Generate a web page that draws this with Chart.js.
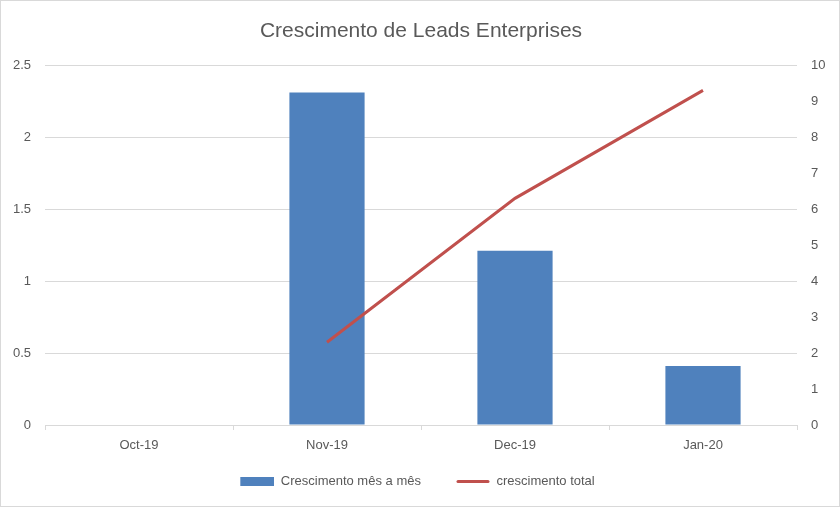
<!DOCTYPE html>
<html>
<head>
<meta charset="utf-8">
<script src="https://cdn.jsdelivr.net/npm/chart.js@4"></script>
<style>
  html, body { margin: 0; padding: 0; background: #fff; }
  #wrap { width: 840px; height: 507px; box-sizing: border-box; border: 1px solid #d9d9d9; }
  canvas { display: block; }
</style>
</head>
<body>
<div id="wrap"><canvas id="chart" width="838" height="505"></canvas></div>
<script>
// Chart data
const months = ['Oct-19', 'Nov-19', 'Dec-19', 'Jan-20'];
const monthlyGrowth = [0, 2.31, 1.21, 0.41];
const totalGrowth = [null, 2.3, 6.3, 9.3];

const BAR_BLUE = '#4F81BD';
const LINE_RED = '#C0504D';
const TEXT_GRAY = '#595959';
const GRID_GRAY = '#d9d9d9';
const FONT = 'Liberation Sans';

// Legend swatches: left part is blank so the items sit further apart
function makeSwatch(kind, color) {
  const c = document.createElement('canvas');
  c.width = 49;
  c.height = 9;
  const g = c.getContext('2d');
  g.fillStyle = color;
  g.strokeStyle = color;
  if (kind === 'rect') {
    g.fillRect(15, 0, 34, 9);
  } else {
    g.lineWidth = 3;
    g.lineCap = 'round';
    g.beginPath();
    g.moveTo(17, 4.5);
    g.lineTo(47, 4.5);
    g.stroke();
  }
  return c;
}
const barSwatch = makeSwatch('rect', BAR_BLUE);
const lineSwatch = makeSwatch('line', LINE_RED);

const ctx = document.getElementById('chart');

new Chart(ctx, {
  type: 'bar',
  data: {
    labels: months,
    datasets: [
      {
        type: 'line',
        label: 'crescimento total',
        data: totalGrowth,
        yAxisID: 'y1',
        borderColor: LINE_RED,
        backgroundColor: LINE_RED,
        borderWidth: 3,
        pointRadius: 0,
        tension: 0,
        order: 1
      },
      {
        label: 'Crescimento mês a mês',
        data: monthlyGrowth,
        yAxisID: 'y',
        backgroundColor: BAR_BLUE,
        borderWidth: 0,
        barPercentage: 0.4,
        categoryPercentage: 1,
        order: 2
      }
    ]
  },
  options: {
    responsive: false,
    animation: false,
    // negative left padding moves the centred legend a bit to the left
    layout: { padding: { top: 0, bottom: 8, left: -20, right: 0 } },
    plugins: {
      title: {
        display: true,
        fullSize: false,
        text: 'Crescimento de Leads Enterprises',
        color: TEXT_GRAY,
        font: { family: FONT, size: 21, weight: 'normal' },
        padding: { top: 18, bottom: 21 }
      },
      legend: {
        position: 'bottom',
        reverse: true,
        labels: {
          color: TEXT_GRAY,
          font: { family: FONT, size: 13 },
          usePointStyle: true,
          pointStyleWidth: 49,
          boxHeight: 9,
          padding: 20,
          generateLabels(chart) {
            const items = Chart.defaults.plugins.legend.labels.generateLabels(chart);
            items.forEach(item => {
              item.pointStyle = item.datasetIndex === 0 ? lineSwatch : barSwatch;
            });
            return items;
          }
        }
      },
      tooltip: { enabled: false }
    },
    scales: {
      x: {
        grid: {
          offset: true,
          drawOnChartArea: false,
          drawTicks: true,
          tickLength: 5,
          color: GRID_GRAY
        },
        border: { display: true, color: GRID_GRAY },
        ticks: {
          color: TEXT_GRAY,
          font: { family: FONT, size: 13 },
          padding: 8
        },
        afterFit(scale) { scale.height = 30; }
      },
      y: {
        position: 'left',
        min: 0,
        max: 2.5,
        ticks: {
          stepSize: 0.5,
          color: TEXT_GRAY,
          font: { family: FONT, size: 13 },
          padding: 14,
          callback: v => String(v)
        },
        grid: { color: GRID_GRAY, drawTicks: false },
        border: { display: false },
        afterFit(scale) { scale.width = 64; }
      },
      y1: {
        position: 'right',
        min: 0,
        max: 10,
        ticks: {
          stepSize: 1,
          color: TEXT_GRAY,
          font: { family: FONT, size: 13 },
          padding: 14
        },
        grid: { drawOnChartArea: false, drawTicks: false },
        border: { display: false },
        afterFit(scale) { scale.width = 42; }
      }
    }
  }
});
</script>
</body>
</html>
